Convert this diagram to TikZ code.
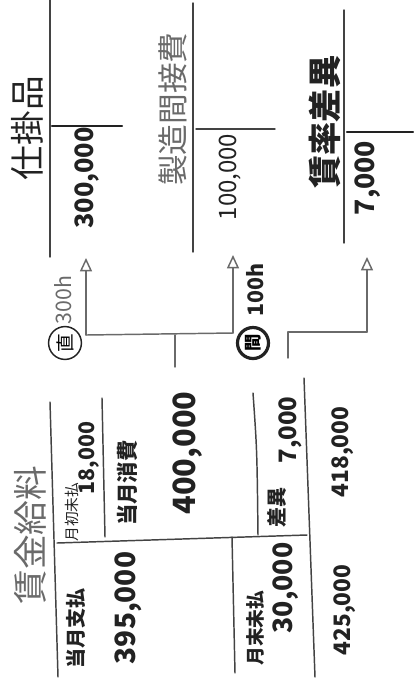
\documentclass[tikz,border=0pt]{standalone}
\usepackage{fontspec}
\setmainfont{Noto Sans CJK JP}
\usetikzlibrary{arrows.meta}

\begin{document}
\begin{tikzpicture}[x=0.75pt,y=-0.75pt,line join=round,line cap=round]
\definecolor{ink}{HTML}{222222}
\definecolor{pencil}{HTML}{6a6a6a}
\tikzset{
  lbl/.style={rotate=90,inner sep=0pt,text=ink},
  grey/.style={rotate=90,inner sep=0pt,text=pencil},
  rule/.style={draw=ink!85,line width=1.1pt},
  flow/.style={draw=pencil,line width=1.1pt},
  tip/.style={-{Triangle[open,length=10pt,width=9pt]}},
  ring/.style={circle,draw=ink,line width=1.1pt,inner sep=2pt,rotate=90}
}
\useasboundingbox (0,0) rectangle (414,687);
% 仕掛品
\draw[rule] (50,0) -- (50,257);
\draw[draw=ink,line width=1.8pt] (52,126) -- (122,126);
\node[lbl,font=\fontsize{26}{26}\selectfont] (shikake) at (27,128) {仕掛品};
\node[lbl,font=\fontsize{19}{19}\selectfont\bfseries] (shikakeamt) at (87,178) {300,000};
% 製造間接費
\draw[rule] (193,3) -- (193,252);
\draw[rule] (196,129) -- (275,129);
\node[grey,font=\fontsize{23}{23}\selectfont] (seizo) at (173,109) {製造間接費};
\node[lbl,font=\fontsize{18}{18}\selectfont] (seizoamt) at (230,177) {100,000};
% 賃率差異
\draw[rule] (344,10) -- (344,243);
\draw[draw=ink,line width=1.8pt] (347,132) -- (413,132);
\node[lbl,font=\fontsize{25}{25}\selectfont\bfseries] (sai) at (325,122) {賃率差異};
\node[lbl,font=\fontsize{20}{20}\selectfont\bfseries] (saiamt) at (368,178) {7,000};
% 振替
\coordinate (j1) at (86,335);
\coordinate (j2) at (233,333);
\coordinate (stem) at (175,367);
\coordinate (stemtop) at (175,335);
\coordinate (t1) at (86,258);
\coordinate (t2) at (233,255);
\coordinate (j3) at (288,332);
\coordinate (j3b) at (288,358);
\coordinate (j3c) at (367,332);
\coordinate (t3) at (367,257);
\draw[flow] (stem) -- (stemtop);
\draw[flow] (j1) -- (j2);
\draw[flow,tip] (j1) -- (t1);
\draw[flow,tip] (j2) -- (t2);
\draw[flow] (j3b) -- (j3) -- (j3c);
\draw[flow,tip] (j3c) -- (t3);
\node[ring,font=\fontsize{14}{14}\selectfont] (choku) at (65,343) {直};
\node[grey,font=\fontsize{16}{16}\selectfont] (chokuh) at (63,300) {300h};
\node[ring,line width=2.4pt,font=\fontsize{13}{13}\selectfont\bfseries] (kan) at (253,343) {間};
\node[lbl,font=\fontsize{16}{16}\selectfont\bfseries] (kanh) at (255,290) {100h};
% 賃金給料
\draw[rule] (50,402) -- (58,677);
\draw[rule] (102,398) -- (105,537);
\draw[rule] (57,543) -- (307,535);
\draw[rule] (232,537) -- (235,673);
\draw[rule] (253,393) .. controls (257,450) .. (258,535);
\draw[rule] (304,378) -- (315,677);
\node[grey,font=\fontsize{26}{26}\selectfont] (chingin) at (30,535) {賃金給料};
\node[lbl,font=\fontsize{11}{11}\selectfont] (gessho) at (72,512) {月初未払};
\node[lbl,font=\fontsize{16}{16}\selectfont\bfseries] (gesshoamt) at (89,458) {18,000};
\node[lbl,font=\fontsize{16}{16}\selectfont\bfseries] (shohi) at (127,483) {当月消費};
\node[lbl,font=\fontsize{23}{23}\selectfont\bfseries] (shohiamt) at (188,453) {400,000};
\node[lbl,font=\fontsize{15}{15}\selectfont\bfseries] (sagaku) at (277,507) {差異};
\node[lbl,font=\fontsize{18}{18}\selectfont\bfseries] (sagakuamt) at (290,430) {7,000};
\node[lbl,font=\fontsize{17}{17}\selectfont\bfseries] (kashi) at (343,452) {418,000};
\node[lbl,font=\fontsize{15}{15}\selectfont\bfseries] (shiharai) at (76,628) {当月支払};
\node[lbl,font=\fontsize{21}{21}\selectfont\bfseries] (shiharaiamt) at (128,608) {395,000};
\node[lbl,font=\fontsize{14}{14}\selectfont\bfseries] (getsumatsu) at (255,628) {月末未払};
\node[lbl,font=\fontsize{20}{20}\selectfont\bfseries] (getsumatsuamt) at (286,588) {30,000};
\node[lbl,font=\fontsize{17}{17}\selectfont\bfseries] (kari) at (345,610) {425,000};
\end{tikzpicture}
\end{document}
